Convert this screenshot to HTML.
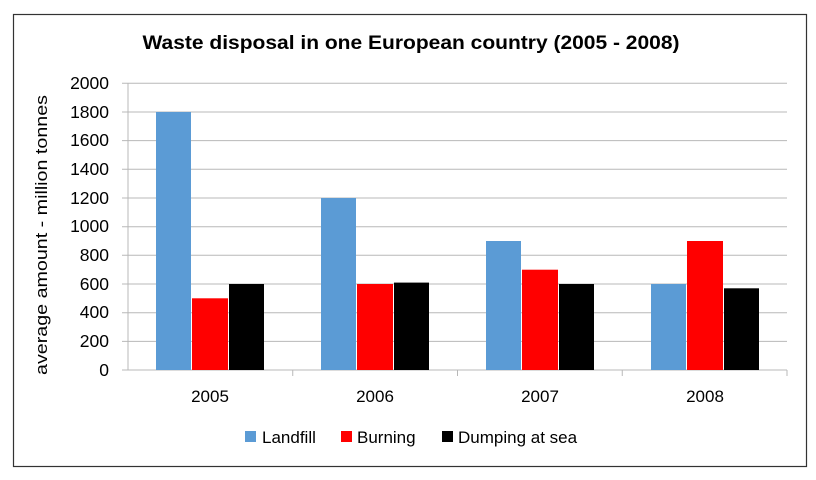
<!DOCTYPE html>
<html><head><meta charset="utf-8"><style>body{margin:0;background:#fff}</style></head>
<body>
<svg width="816" height="475" xmlns="http://www.w3.org/2000/svg" font-family="Liberation Sans, sans-serif">
<rect x="0" y="0" width="816" height="475" fill="#fff"/>
<rect x="13.5" y="14.5" width="793" height="452" fill="none" stroke="#333" stroke-width="1.2"/>
<text x="411" y="49" text-anchor="middle" font-size="19" font-weight="bold" textLength="537" lengthAdjust="spacingAndGlyphs">Waste disposal in one European country (2005 - 2008)</text>
<g stroke="#b8b8b8" stroke-width="1">
<line x1="122" y1="83.3" x2="787" y2="83.3"/>
<line x1="122" y1="112" x2="787" y2="112"/>
<line x1="122" y1="140.6" x2="787" y2="140.6"/>
<line x1="122" y1="169.3" x2="787" y2="169.3"/>
<line x1="122" y1="198" x2="787" y2="198"/>
<line x1="122" y1="226.7" x2="787" y2="226.7"/>
<line x1="122" y1="255.3" x2="787" y2="255.3"/>
<line x1="122" y1="284" x2="787" y2="284"/>
<line x1="122" y1="312.7" x2="787" y2="312.7"/>
<line x1="122" y1="341.4" x2="787" y2="341.4"/>
<line x1="128" y1="83" x2="128" y2="370"/>
<line x1="122" y1="370" x2="787" y2="370"/>
<line x1="292.75" y1="370" x2="292.75" y2="376"/>
<line x1="457.5" y1="370" x2="457.5" y2="376"/>
<line x1="622.25" y1="370" x2="622.25" y2="376"/>
<line x1="787" y1="370" x2="787" y2="376"/>
</g>
<g font-size="17.5" text-anchor="end" fill="#000">
<text x="109" y="89">2000</text><text x="109" y="118">1800</text><text x="109" y="146">1600</text>
<text x="109" y="175">1400</text><text x="109" y="204">1200</text><text x="109" y="232">1000</text>
<text x="109" y="261">800</text><text x="109" y="290">600</text><text x="109" y="318">400</text>
<text x="109" y="347">200</text><text x="109" y="376">0</text>
</g>
<text transform="translate(47,235) rotate(-90)" text-anchor="middle" font-size="17" textLength="280" lengthAdjust="spacingAndGlyphs">average amount - million tonnes</text>
<g>
<rect x="156" y="112" width="35" height="258" fill="#5b9bd5"/>
<rect x="192" y="298.3" width="36" height="71.7" fill="#ff0000"/>
<rect x="229" y="284" width="35" height="86" fill="#000"/>
<rect x="321" y="198" width="35" height="172" fill="#5b9bd5"/>
<rect x="357" y="284" width="36" height="86" fill="#ff0000"/>
<rect x="394" y="282.6" width="35" height="87.4" fill="#000"/>
<rect x="486" y="241" width="35" height="129" fill="#5b9bd5"/>
<rect x="522" y="269.7" width="36" height="100.3" fill="#ff0000"/>
<rect x="559" y="284" width="35" height="86" fill="#000"/>
<rect x="651" y="284" width="35" height="86" fill="#5b9bd5"/>
<rect x="687" y="241" width="36" height="129" fill="#ff0000"/>
<rect x="724" y="288.3" width="35" height="81.7" fill="#000"/>
</g>
<g font-size="17" text-anchor="middle">
<text x="210" y="402">2005</text><text x="375" y="402">2006</text>
<text x="540" y="402">2007</text><text x="705" y="402">2008</text>
</g>
<g font-size="17">
<rect x="245" y="431" width="11" height="11" fill="#5b9bd5"/><text x="262" y="443">Landfill</text>
<rect x="341" y="431" width="11" height="11" fill="#ff0000"/><text x="357" y="443">Burning</text>
<rect x="442" y="431" width="11" height="11" fill="#000"/><text x="458" y="443">Dumping at sea</text>
</g>
</svg>
</body></html>
